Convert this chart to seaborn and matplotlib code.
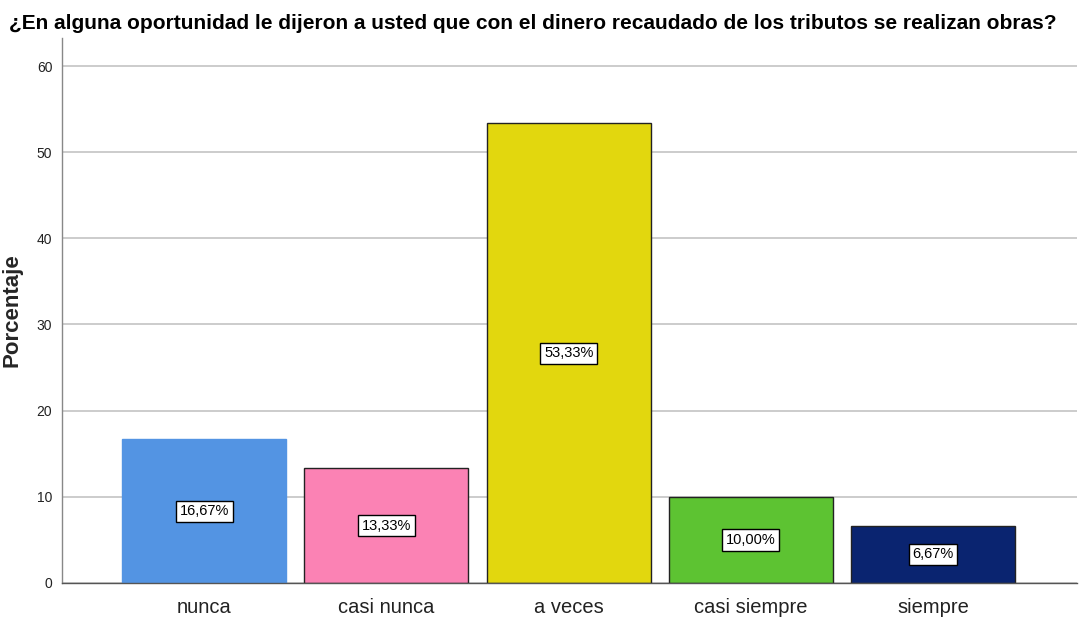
#!/usr/bin/env python3

import pandas as pd
import seaborn as sb
import matplotlib.pyplot as plt

categories = ["nunca", "casi nunca", "a veces", "casi siempre", "siempre"]
percentages = [16.67, 13.33, 53.33, 10.00, 6.67]
bar_labels = ["16,67%", "13,33%", "53,33%", "10,00%", "6,67%"]
colors = ["#5394e3", "#fb82b4", "#e2d70e", "#5dc332", "#0a2470"]


def doPlot(df, title, outFile):
    sb.set_style("white")
    plt.rcParams["font.family"] = ["Liberation Sans", "DejaVu Sans"]
    fig = plt.figure(figsize=(10.81, 6.20), dpi=100)
    ax = fig.add_axes([0.0574, 0.0597, 0.939, 0.879])
    ax.yaxis.grid(True, color="#c8c8c8", linewidth=1.3)
    ax.set_axisbelow(True)
    sb.barplot(
        data=df,
        x="Categoria",
        y="Porcentaje",
        hue="Categoria",
        palette=colors,
        width=0.9,
        saturation=1,
        legend=False,
        ax=ax,
    )
    for i, patch in enumerate(ax.patches):
        if i == 0:
            patch.set_edgecolor(colors[0])
        else:
            patch.set_edgecolor("#222222")
        patch.set_linewidth(1.0)
        h = patch.get_height()
        ax.text(
            patch.get_x() + patch.get_width() / 2,
            h / 2,
            df["Etiqueta"][i],
            ha="center",
            va="center",
            fontsize=10.5,
            color="black",
            bbox=dict(boxstyle="square,pad=0.25", facecolor="white",
                      edgecolor="black", linewidth=1.0),
        )
    ax.set_xlim(-0.78, 4.79)
    ax.set_ylim(0, 63.25)
    ax.set_yticks([0, 10, 20, 30, 40, 50, 60])
    ax.tick_params(axis="y", labelsize=10, colors="#222222", length=0, pad=7)
    ax.tick_params(axis="x", labelsize=14.5, colors="#222222", length=0, pad=11)
    ax.set_xlabel("")
    ax.set_ylabel("Porcentaje", fontsize=16, fontweight="bold", labelpad=10)
    for s in ["top", "right"]:
        ax.spines[s].set_visible(False)
    ax.spines["left"].set_color("#888888")
    ax.spines["bottom"].set_color("#555555")
    ax.spines["left"].set_linewidth(1.0)
    ax.spines["bottom"].set_linewidth(1.0)
    fig.text(0.493, 0.962, title, ha="center", va="center",
             fontsize=15, fontweight="bold", color="black")
    plt.savefig(outFile)


def main():
    df = pd.DataFrame({
        "Categoria": categories,
        "Porcentaje": percentages,
        "Etiqueta": bar_labels,
    })
    doPlot(
        df,
        "¿En alguna oportunidad le dijeron a usted que con el dinero recaudado de los tributos se realizan obras?",
        "out.png",
    )


if __name__ == "__main__":
    main()
